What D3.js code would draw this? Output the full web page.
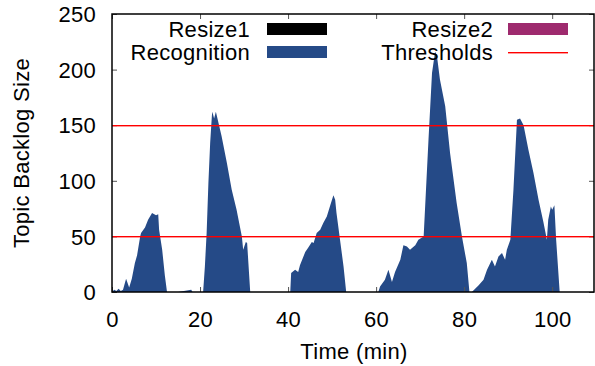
<!DOCTYPE html>
<html>
<head>
<meta charset="utf-8">
<script src="https://cdn.jsdelivr.net/npm/d3@7"></script>
<style>
  body { margin: 0; background: #fff; }
  svg text { font-family: "Liberation Sans", Arial, sans-serif; fill: #000; letter-spacing: 0.3px; }
</style>
</head>
<body>
<div id="chart"></div>
<script>
// time (min) and topic backlog
const times = [0, 0.5, 1, 1.5, 2, 2.5, 3.2, 3.9, 4.5, 5.2, 5.7, 6.4, 6.6, 7.5, 8.2, 9.1, 10, 10.5, 10.7, 11.4, 12, 12.5,
  15, 18, 18.3, 20.5,
  20.7, 21.1, 21.5, 21.9, 22.3, 22.7, 22.8, 23.2, 23.6, 24.9, 26.1, 27.2, 28.3, 29.5, 29.8, 30.4, 30.7, 31.4,
  40.5, 40.7, 41.6, 42.3, 42.7, 43.9, 44.6, 45.4, 45.8, 46.5, 47.3, 48, 48.8, 49.5, 50.3, 50.7, 51, 51.8, 52.6, 53.2,
  60.5, 60.9, 62, 62.8, 63.6, 64.3, 65.5, 66.2, 67, 67.7, 68.9, 69.6, 70.8, 71.9, 72.7, 73.4, 73.8, 74.5, 75.7, 76.8, 78.3, 79.5, 80.6, 81.2,
  81.75, 83.3, 84.4, 85.2, 86.3, 87, 87.8, 88.6, 89.3, 89.7, 90.5, 91.2, 92, 92.7, 93.5, 94.6, 95.75, 96.9, 98, 98.8, 99.1, 99.7, 100, 100.5, 100.9, 101.7];
const backlog = [0, 2, 1, 3, 1, 2, 12, 4, 12, 26, 33, 50, 53, 58, 65, 71, 69, 70, 56, 38, 15, 0,
  0, 2, 0, 0,
  0, 23, 53, 98, 134, 159, 162, 156, 162, 140, 116, 92, 74, 50, 38, 45, 44, 0,
  0, 17, 20, 18, 24, 36, 40, 45, 44, 53, 56, 62, 68, 77, 87, 83, 71, 47, 23, 0,
  0, 5, 11, 20, 9, 18, 29, 42, 41, 38, 42, 47, 50, 137, 197, 216, 213, 191, 167, 125, 80, 50, 26, 0,
  0, 6, 11, 20, 29, 23, 32, 35, 29, 38, 47, 92, 155, 156, 150, 128, 107, 83, 63, 47, 65, 77, 74, 78, 47, 0];
const thresholds = [50, 150];
const xTicks = [0, 20, 40, 60, 80, 100];
const yTicks = [0, 50, 100, 150, 200, 250];
const legendItems = [
  { name: "Resize1", color: "#000000", kind: "box" },
  { name: "Recognition", color: "#254a87", kind: "box" },
  { name: "Resize2", color: "#9e2a6e", kind: "box" },
  { name: "Thresholds", color: "#ff0000", kind: "line" }
];

const width = 595, height = 366;
const margin = { top: 14, right: 1, bottom: 74, left: 112 };
const data = times.map((t, i) => ({ t: t, v: backlog[i] }));

const svg = d3.select("#chart").append("svg")
  .attr("width", width)
  .attr("height", height);

const x = d3.scaleLinear().domain([0, 109.5]).range([margin.left, width - margin.right]);
const y = d3.scaleLinear().domain([0, 250]).range([height - margin.bottom, margin.top]);

// recognition area
const area = d3.area()
  .x(d => x(d.t))
  .y0(y(0))
  .y1(d => y(d.v));

svg.append("path")
  .datum(data)
  .attr("fill", "#254a87")
  .attr("d", area);

// axes: gnuplot style, inward mirrored ticks
const axisFont = "22px";
const bottomAxis = svg.append("g")
  .attr("transform", `translate(0, ${y(0)})`)
  .call(d3.axisBottom(x).tickValues(xTicks).tickSizeInner(-5).tickSizeOuter(0).tickPadding(19));
const leftAxis = svg.append("g")
  .attr("transform", `translate(${x(0)}, 0)`)
  .call(d3.axisLeft(y).tickValues(yTicks).tickSizeInner(-5).tickSizeOuter(0).tickPadding(16));
const topAxis = svg.append("g")
  .attr("transform", `translate(0, ${y(250)})`)
  .call(d3.axisTop(x).tickValues(xTicks).tickSizeInner(-5).tickSizeOuter(0).tickFormat(""));
const rightAxis = svg.append("g")
  .attr("transform", `translate(${x.range()[1]}, 0)`)
  .call(d3.axisRight(y).tickValues(yTicks).tickSizeInner(-5).tickSizeOuter(0).tickFormat(""));

[bottomAxis, leftAxis, topAxis, rightAxis].forEach(g => {
  g.select(".domain").remove();
  g.selectAll(".tick line").attr("stroke", "#555").attr("stroke-width", 1);
  g.selectAll("text").style("font-size", axisFont).attr("fill", "#000");
});
leftAxis.selectAll("text").attr("dy", "0.35em");

// threshold lines (drawn as thin red bands so they stay crisp)
svg.selectAll("rect.thr")
  .data(thresholds)
  .enter().append("rect")
  .attr("class", "thr")
  .attr("x", x.range()[0])
  .attr("width", x.range()[1] - x.range()[0])
  .attr("y", d => Math.round(y(d)))
  .attr("height", 1.4)
  .attr("fill", "#ff0000");

// plot border
svg.append("rect")
  .attr("x", x.range()[0])
  .attr("y", y(250))
  .attr("width", x.range()[1] - x.range()[0])
  .attr("height", y(0) - y(250))
  .attr("fill", "none")
  .attr("stroke", "#000")
  .attr("stroke-width", 1.5);

// axis titles
svg.append("text")
  .attr("x", 354)
  .attr("y", 359)
  .attr("text-anchor", "middle")
  .style("font-size", axisFont)
  .text("Time (min)");

svg.append("text")
  .attr("transform", `translate(29, ${(y(0) + y(250)) / 2}) rotate(-90)`)
  .attr("text-anchor", "middle")
  .style("font-size", axisFont)
  .text("Topic Backlog Size");

// legend, two columns
const legend = svg.append("g");
const legendPos = [
  { tx: 250, sx: 267, cy: 29 },
  { tx: 250, sx: 267, cy: 52 },
  { tx: 493, sx: 508, cy: 29 },
  { tx: 493, sx: 508, cy: 52 }
];
legendItems.forEach((d, i) => {
  const p = legendPos[i];
  legend.append("text")
    .attr("x", p.tx)
    .attr("y", p.cy)
    .attr("dy", "0.35em")
    .attr("text-anchor", "end")
    .style("font-size", axisFont)
    .text(d.name);
  if (d.kind === "box") {
    legend.append("rect")
      .attr("x", p.sx)
      .attr("y", p.cy - 6)
      .attr("width", 60)
      .attr("height", 12)
      .attr("fill", d.color);
  } else {
    legend.append("rect")
      .attr("x", p.sx)
      .attr("y", p.cy)
      .attr("width", 60)
      .attr("height", 1.4)
      .attr("fill", d.color);
  }
});
</script>
</body>
</html>
